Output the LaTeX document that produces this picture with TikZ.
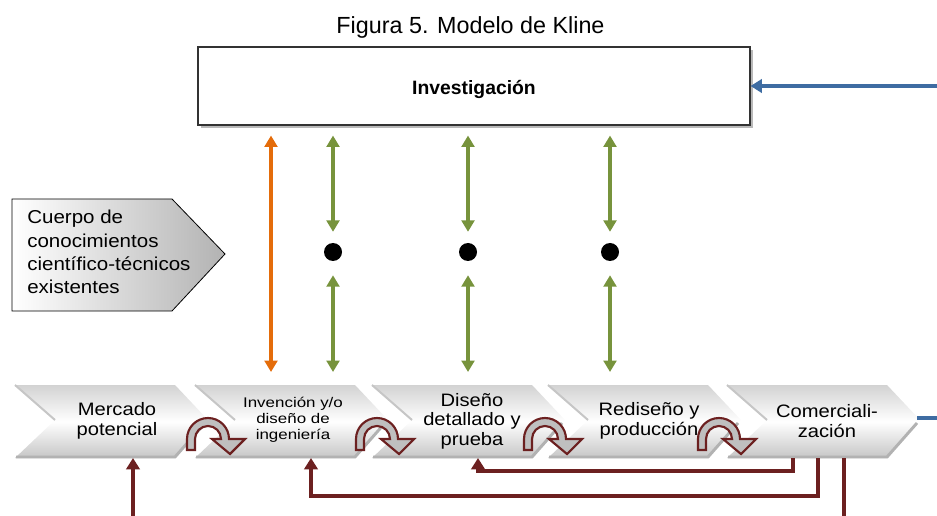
\documentclass[tikz,border=0pt]{standalone}
\usepackage{fontspec}
\setmainfont{Liberation Sans}
\usetikzlibrary{arrows.meta,calc,shadows}
\definecolor{klmaroon}{RGB}{108,32,32}
\definecolor{klgreen}{RGB}{119,147,60}
\definecolor{klorange}{RGB}{228,108,10}
\definecolor{klblue}{RGB}{62,108,162}
\newcommand\klchev[1]{%
  \path[top color=gray!35, bottom color=gray!45, middle color=white]
    (#1,385) -- ({#1+160},385) -- ({#1+193},420) -- ({#1+160},458) -- (#1,458) -- ({#1+40},420) -- cycle;
  \draw[gray!60, line width=2.2pt] ({#1+1},457) -- ({#1+160},457) -- ({#1+190},423);
  \draw[gray!45, line width=1.5pt] (#1,385) -- ({#1+40},420);
}
\newcommand\klcurv[1]{%
  \filldraw[draw=klmaroon, line width=1.6pt, fill=gray!50, line join=miter]
    ({#1-21},450) -- ({#1-21},439) arc[start angle=180, end angle=360, radius=21]
    -- ({#1+37},439) -- ({#1+22},454) -- ({#1+4},439) -- ({#1+13},439)
    arc[start angle=360, end angle=180, radius=13] -- ({#1-13},450) -- cycle;
}
\begin{document}
\begin{tikzpicture}[x=0.75pt,y=-0.75pt,
  garr/.style={draw=klgreen, line width=2.4pt, {Triangle[width=9.5pt,length=8.5pt]}-{Triangle[width=9.5pt,length=8.5pt]}},
  oarr/.style={draw=klorange, line width=2.4pt, {Triangle[width=9.5pt,length=8.5pt]}-{Triangle[width=9.5pt,length=8.5pt]}},
  marr/.style={draw=klmaroon, line width=2.8pt, -{Triangle[width=10pt,length=8.5pt]}},
  mline/.style={draw=klmaroon, line width=2.8pt},
  barr/.style={draw=klblue, line width=2.6pt, -{Triangle[width=10pt,length=8.5pt]}},
  dotnode/.style={circle, fill=black, minimum size=13.5pt, inner sep=0pt},
  chevtext/.style={font=\fontsize{13.5}{15}\selectfont, align=center, xscale=1.12, inner sep=0pt}
]
\useasboundingbox (0,0) rectangle (937,516);

% title
\node[font=\fontsize{17.5}{20}\selectfont, anchor=base, inner sep=0pt] (title) at (470.5,34) {Figura 5. Modelo de Kline};

% Investigacion box
\node[draw=gray!40!black, line width=0.8pt, fill=white, minimum width=414pt, minimum height=58.5pt, inner sep=0pt,
      drop shadow={shadow xshift=2.2pt, shadow yshift=-2.2pt, fill=gray!55, opacity=1},
      font=\bfseries\fontsize{14.5}{17}\selectfont] (invest) at (474,86) {\raisebox{-2.5pt}[\height][\depth]{Investigación}};

% blue arrow into Investigacion
\coordinate (bsrc) at (937,86);
\draw[barr] (bsrc) -- (invest.east);

% Cuerpo de conocimientos
\path[left color=white, right color=gray!60, draw=black, line width=0.6pt]
  (12,199) -- (172,199) -- (225,254) -- (172,311) -- (12,311) -- cycle;
\node[anchor=west, align=left, font=\fontsize{14}{17.4}\selectfont, xscale=1.1, inner sep=0pt] (cuerpo) at (27,252)
  {Cuerpo de\\conocimientos\\científico-técnicos\\existentes};

% chain of chevrons
\klchev{15}
\klchev{195}
\klchev{372}
\klchev{548}
\klchev{727}
\coordinate (rowtop) at (0,385);

\node[chevtext] (merc) at (117,421) {Mercado\\potencial};
\node[chevtext, font=\fontsize{10.5}{12}\selectfont, xscale=1.08] (invd) at (293,420) {Invención y/o\\diseño de\\ingeniería};
\node[chevtext, font=\fontsize{13.5}{14.6}\selectfont] (dis) at (472,421) {Diseño\\detallado y\\prueba};
\node[chevtext] (red) at (649,421) {Rediseño y\\producción};
\node[chevtext] (com) at (827,421) {Comerciali-\\zación};

% curved arrows
\klcurv{208}
\klcurv{377}
\klcurv{545}
\klcurv{719}

% short blue line leaving Comercializacion
\coordinate (comtip) at (917,418);
\coordinate (bout) at (937,418);
\draw[klblue, line width=2.6pt] (comtip) -- (bout);

% dots and green arrows
\node[dotnode] (d1) at (333,252) {};
\node[dotnode] (d2) at (468,252) {};
\node[dotnode] (d3) at (610,252) {};
\foreach \d in {d1,d2,d3}{
  \draw[garr, shorten <=7.5pt, shorten >=8.2pt] (invest.south -| \d) -- (\d.north);
  \draw[garr, shorten <=10.5pt, shorten >=9.75pt] (\d.south) -- (\d |- rowtop);
}
% orange arrow
\coordinate (orx) at (271,0);
\draw[oarr, shorten <=7.5pt, shorten >=9.75pt] (invest.south -| orx) -- (orx |- rowtop);

% maroon feedback connectors
\coordinate (srcM) at (133,516);
\coordinate (mercIn) at (133,458);
\draw[marr] (srcM) -- (mercIn);
\coordinate (comA) at (793,458);
\coordinate (disIn) at (478,458);
\draw[marr] (comA) -- (793,471) -| (disIn);
\coordinate (comB) at (818,458);
\coordinate (invIn) at (311,458);
\draw[marr] (comB) -- (818,496) -| (invIn);
\coordinate (comC) at (844,458);
\coordinate (outC) at (844,516);
\draw[mline] (comC) -- (outC);
\end{tikzpicture}
\end{document}
